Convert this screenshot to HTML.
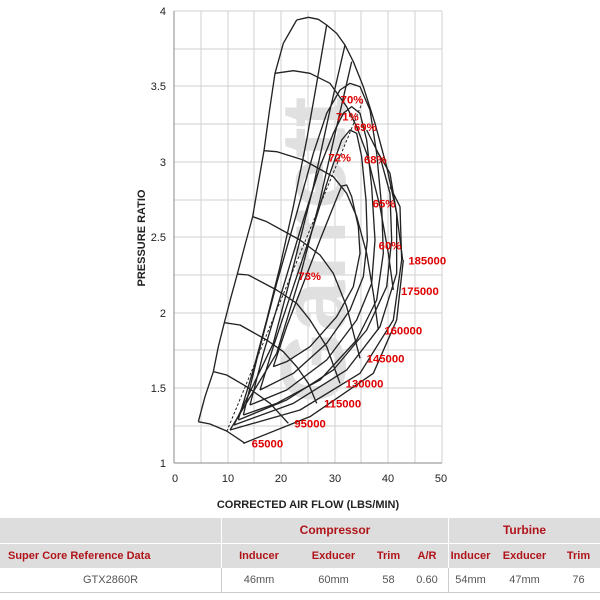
<!DOCTYPE html>
<html><head><meta charset="utf-8"><style>
body{margin:0;background:#fff;width:600px;height:600px;overflow:hidden;font-family:"Liberation Sans",sans-serif}
table{position:absolute;left:0;top:518px;width:600px;border-collapse:collapse;font-size:11px}
td{text-align:center;padding:0;border:none}
.h{background:#ddd;color:#b0141a;font-weight:bold;height:25px}
.r2 td{border-top:1px solid #fff}
.d td{height:24px;color:#555;border-bottom:1px solid #ccc}
.sep{border-left:1px solid #fff}
.dsep{border-left:1px solid #ccc}
</style></head><body>
<svg width="600" height="518" style="position:absolute;left:0;top:0" font-family="Liberation Sans, sans-serif">
<g stroke="#d0d0d0" stroke-width="1">
<line x1="174" y1="11" x2="174" y2="463"/><line x1="201" y1="11" x2="201" y2="463"/><line x1="228" y1="11" x2="228" y2="463"/><line x1="254" y1="11" x2="254" y2="463"/><line x1="281" y1="11" x2="281" y2="463"/><line x1="308" y1="11" x2="308" y2="463"/><line x1="335" y1="11" x2="335" y2="463"/><line x1="361" y1="11" x2="361" y2="463"/><line x1="388" y1="11" x2="388" y2="463"/><line x1="415" y1="11" x2="415" y2="463"/><line x1="442" y1="11" x2="442" y2="463"/>
<line x1="174" y1="11" x2="442" y2="11"/><line x1="174" y1="49" x2="442" y2="49"/><line x1="174" y1="86" x2="442" y2="86"/><line x1="174" y1="124" x2="442" y2="124"/><line x1="174" y1="162" x2="442" y2="162"/><line x1="174" y1="200" x2="442" y2="200"/><line x1="174" y1="237" x2="442" y2="237"/><line x1="174" y1="275" x2="442" y2="275"/><line x1="174" y1="313" x2="442" y2="313"/><line x1="174" y1="350" x2="442" y2="350"/><line x1="174" y1="388" x2="442" y2="388"/><line x1="174" y1="426" x2="442" y2="426"/>
</g>
<line x1="174" y1="11" x2="174" y2="463" stroke="#888"/><line x1="174" y1="463" x2="442" y2="463" stroke="#888"/>
<text transform="translate(345,250) rotate(-90)" text-anchor="middle" font-size="92" font-weight="bold" fill="#e0e0e0">Garrett</text>
<g font-size="11" fill="#222" text-anchor="end">
<text x="166" y="15">4</text><text x="166" y="90">3.5</text><text x="166" y="166">3</text><text x="166" y="241">2.5</text><text x="166" y="317">2</text><text x="166" y="392">1.5</text><text x="166" y="467">1</text></g>
<g font-size="11" fill="#222" text-anchor="middle">
<text x="175" y="482">0</text><text x="228" y="482">10</text><text x="281" y="482">20</text><text x="335" y="482">30</text><text x="388" y="482">40</text><text x="441" y="482">50</text></g>
<text x="308" y="508" text-anchor="middle" font-size="11" font-weight="bold" fill="#222">CORRECTED AIR FLOW (LBS/MIN)</text>
<text transform="translate(145,238) rotate(-90)" text-anchor="middle" font-size="11" font-weight="bold" fill="#222">PRESSURE RATIO</text>
<g transform="translate(160,0) scale(0.33333)" fill="none" stroke="#222" stroke-width="4" stroke-linejoin="round">
<polyline points="115,1265 135,1190 160,1115 175,1040 193,968 212,895 232,822 255,735 278,650 295,550 312,452 328,335 345,220 370,130 410,60"/>
<polyline points="115,1265 150,1272 200,1293 255,1330"/>
<polyline points="160,1115 200,1125 260,1160 330,1210 385,1270"/>
<polyline points="193,968 240,975 320,1020 370,1055 410,1100 445,1150 470,1210"/>
<polyline points="232,822 265,825 350,870 410,910 450,960 500,1040 540,1150"/>
<polyline points="278,650 320,665 420,720 480,765 520,820 560,920 600,1075"/>
<polyline points="312,452 350,455 430,480 520,530 560,580 590,650 620,760 640,880 655,990"/>
<polyline points="345,220 400,212 450,220 510,250 560,320 590,380 620,460 660,620 685,760 700,870"/>
<polyline points="410,60 445,52 475,58 500,75 530,100 555,135 580,185 610,260 645,370 680,500 710,640 728,780"/>
<polyline points="500,75 470,250 440,420 400,620 360,800 320,960 280,1110 235,1258"/>
<polyline points="555,135 510,330 460,560 400,800 340,1030 222,1275"/>
<polyline points="575,185 530,380 480,600 420,830 350,1060 210,1290"/>
<polyline points="340,1100 380,980 430,850 480,720 520,620 545,558 560,555 575,590 595,680 600,760 580,860 530,950 450,1040 380,1085 340,1100"/>
<polyline points="300,1170 340,1040 400,860 460,680 510,520 545,420 570,390 590,400 605,470 618,600 622,720 610,830 570,930 500,1030 400,1120 300,1170"/>
<polyline points="270,1215 310,1060 370,860 430,660 480,500 520,400 550,340 575,320 600,340 620,420 635,560 645,720 635,850 590,960 500,1080 380,1170 270,1215"/>
<polyline points="250,1245 290,1080 350,850 410,640 460,460 500,340 540,270 570,250 600,260 630,330 650,460 665,620 670,760 650,900 590,1020 480,1140 350,1210 250,1245"/>
<polyline points="235,1260 380,1200 520,1110 620,990 680,860 695,720 690,580 660,470 620,390"/>
<polyline points="222,1275 400,1210 560,1110 660,980 710,820 710,640 690,520 655,460"/>
<polyline points="210,1290 420,1230 600,1120 700,960 725,780 720,620 690,560"/>
<polyline points="250,1330 450,1250 640,1120 710,960 730,780"/>
<path d="M200,1295 L610,300" stroke-dasharray="8,6" stroke-width="3"/>
</g>
<g transform="translate(160,0) scale(0.33333)" fill="#e00000" font-size="34" font-weight="bold">
<text x="542" y="310">70%</text><text x="528" y="362">71%</text><text x="582" y="393">69%</text><text x="505" y="485">72%</text><text x="612" y="490">68%</text><text x="638" y="622">65%</text><text x="656" y="748">60%</text><text x="415" y="840">73%</text>
<text x="745" y="794">185000</text><text x="723" y="885">175000</text><text x="673" y="1003">160000</text><text x="620" y="1088">145000</text><text x="557" y="1162">130000</text><text x="492" y="1222">115000</text><text x="403" y="1283">95000</text><text x="275" y="1342">65000</text>
</g>
</svg>
<table>
<tr class="h"><td style="width:221px"></td><td colspan="4" class="sep" style="font-size:12px">Compressor</td><td colspan="3" class="sep" style="font-size:12px">Turbine</td></tr>
<tr class="h r2"><td style="text-align:left;padding-left:8px">Super Core Reference Data</td><td class="sep" style="width:74px">Inducer</td><td style="width:75px">Exducer</td><td style="width:35px">Trim</td><td style="width:42px">A/R</td><td class="sep" style="width:43px">Inducer</td><td style="width:65px">Exducer</td><td>Trim</td></tr>
<tr class="d"><td>GTX2860R</td><td class="dsep">46mm</td><td>60mm</td><td>58</td><td>0.60</td><td class="dsep">54mm</td><td>47mm</td><td>76</td></tr>
</table>
</body></html>
